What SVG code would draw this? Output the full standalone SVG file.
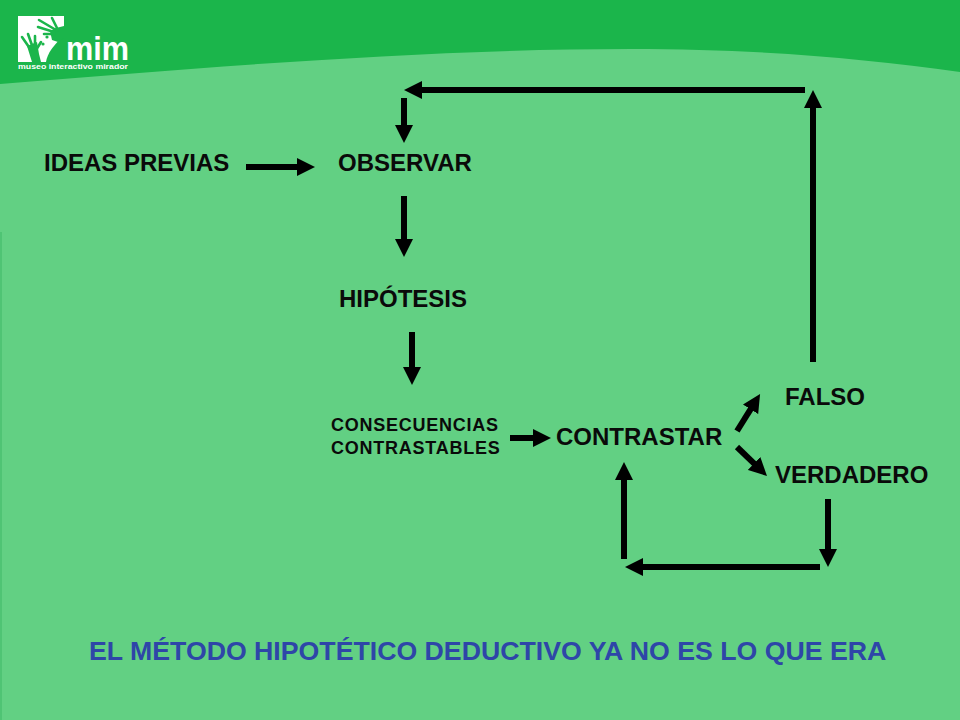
<svg xmlns="http://www.w3.org/2000/svg" width="960" height="720" viewBox="0 0 960 720">
<style>
.t{font-family:"Liberation Sans",Arial,sans-serif;font-weight:bold;fill:#0a0a0a;font-size:24px}
.s{font-size:18px;letter-spacing:.75px}
.c{fill:none;stroke:#000;stroke-width:6;marker-end:url(#a)}
.f{fill:none;stroke:#1bb54b;stroke-width:2.6;stroke-linecap:round}
.l{font-family:"Liberation Sans",Arial,sans-serif;font-weight:bold;fill:#fff}
</style>
<defs>
<marker id="a" markerUnits="userSpaceOnUse" markerWidth="18" markerHeight="18" refX="2" refY="9" orient="auto" viewBox="0 0 18 18"><path d="M0 0L18 9L0 18Z" fill="#000"/></marker>
</defs>
<rect width="960" height="720" fill="#62d083"/>
<path d="M0 0H960V72C860 58 760 49 630 49C420 49 200 68 0 84Z" fill="#1bb54b"/>
<rect x="0" y="232" width="2" height="488" fill="#4fc474"/>
<g id="logo">
<path d="M18 16H64V62H18Z" fill="#fff"/>
<path d="M64 36V62H46C47 54 54 44 64 36Z" fill="#1bb54b"/>
<path d="M64 26L56 28L50 31L52 40L58 42L64 38Z" fill="#1bb54b"/>
<path class="f" d="M58 30L52 18M56 30L39 20M54 32L38 27M54 34L44 34"/>
<path d="M27 46L37 42L39 54L41 62H32Z" fill="#1bb54b"/>
<path class="f" d="M31 50L22 37M33 48L28 34M35 48L35 36M36 50L41 42"/>
<circle cx="43" cy="44" r="1.6" fill="#1bb54b"/><circle cx="47" cy="37" r="1.6" fill="#1bb54b"/>
<text class="l" x="66" y="60" font-size="33" textLength="63" lengthAdjust="spacingAndGlyphs">mim</text>
<text class="l" x="18" y="69" font-size="8" textLength="110" lengthAdjust="spacingAndGlyphs">museo interactivo mirador</text>
</g>
<g id="connectors">
<path class="c" d="M246 167H299"/>
<path class="c" d="M404 196V241"/>
<path class="c" d="M412 332V369"/>
<path class="c" d="M510 438H535"/>
<path class="c" d="M737 431L751.6 407.6"/>
<path class="c" d="M737 447L755.5 464.9"/>
<path class="c" d="M828 499V551"/>
<path class="c" d="M820 567H641"/>
<path class="c" d="M624 559V478"/>
<path class="c" d="M813 362V106"/>
<path class="c" d="M805 90H420"/>
<path class="c" d="M404 98V127"/>
</g>
<g id="ideas"><text class="t" x="44" y="171">IDEAS PREVIAS</text></g>
<g id="observar"><text class="t" x="338" y="171">OBSERVAR</text></g>
<g id="hipotesis"><text class="t" x="339" y="307">HIPÓTESIS</text></g>
<g id="consecuencias"><text class="t s" x="331" y="431">CONSECUENCIAS</text><text class="t s" x="331" y="454">CONTRASTABLES</text></g>
<g id="contrastar"><text class="t" x="556" y="445">CONTRASTAR</text></g>
<g id="falso"><text class="t" x="785" y="405">FALSO</text></g>
<g id="verdadero"><text class="t" x="775" y="483">VERDADERO</text></g>
<g id="titulo"><text x="89" y="660" font-size="26.7" style="font-family:'Liberation Sans',Arial,sans-serif;font-weight:bold;fill:#2e46a8">EL MÉTODO HIPOTÉTICO DEDUCTIVO YA NO ES LO QUE ERA</text></g>
</svg>
